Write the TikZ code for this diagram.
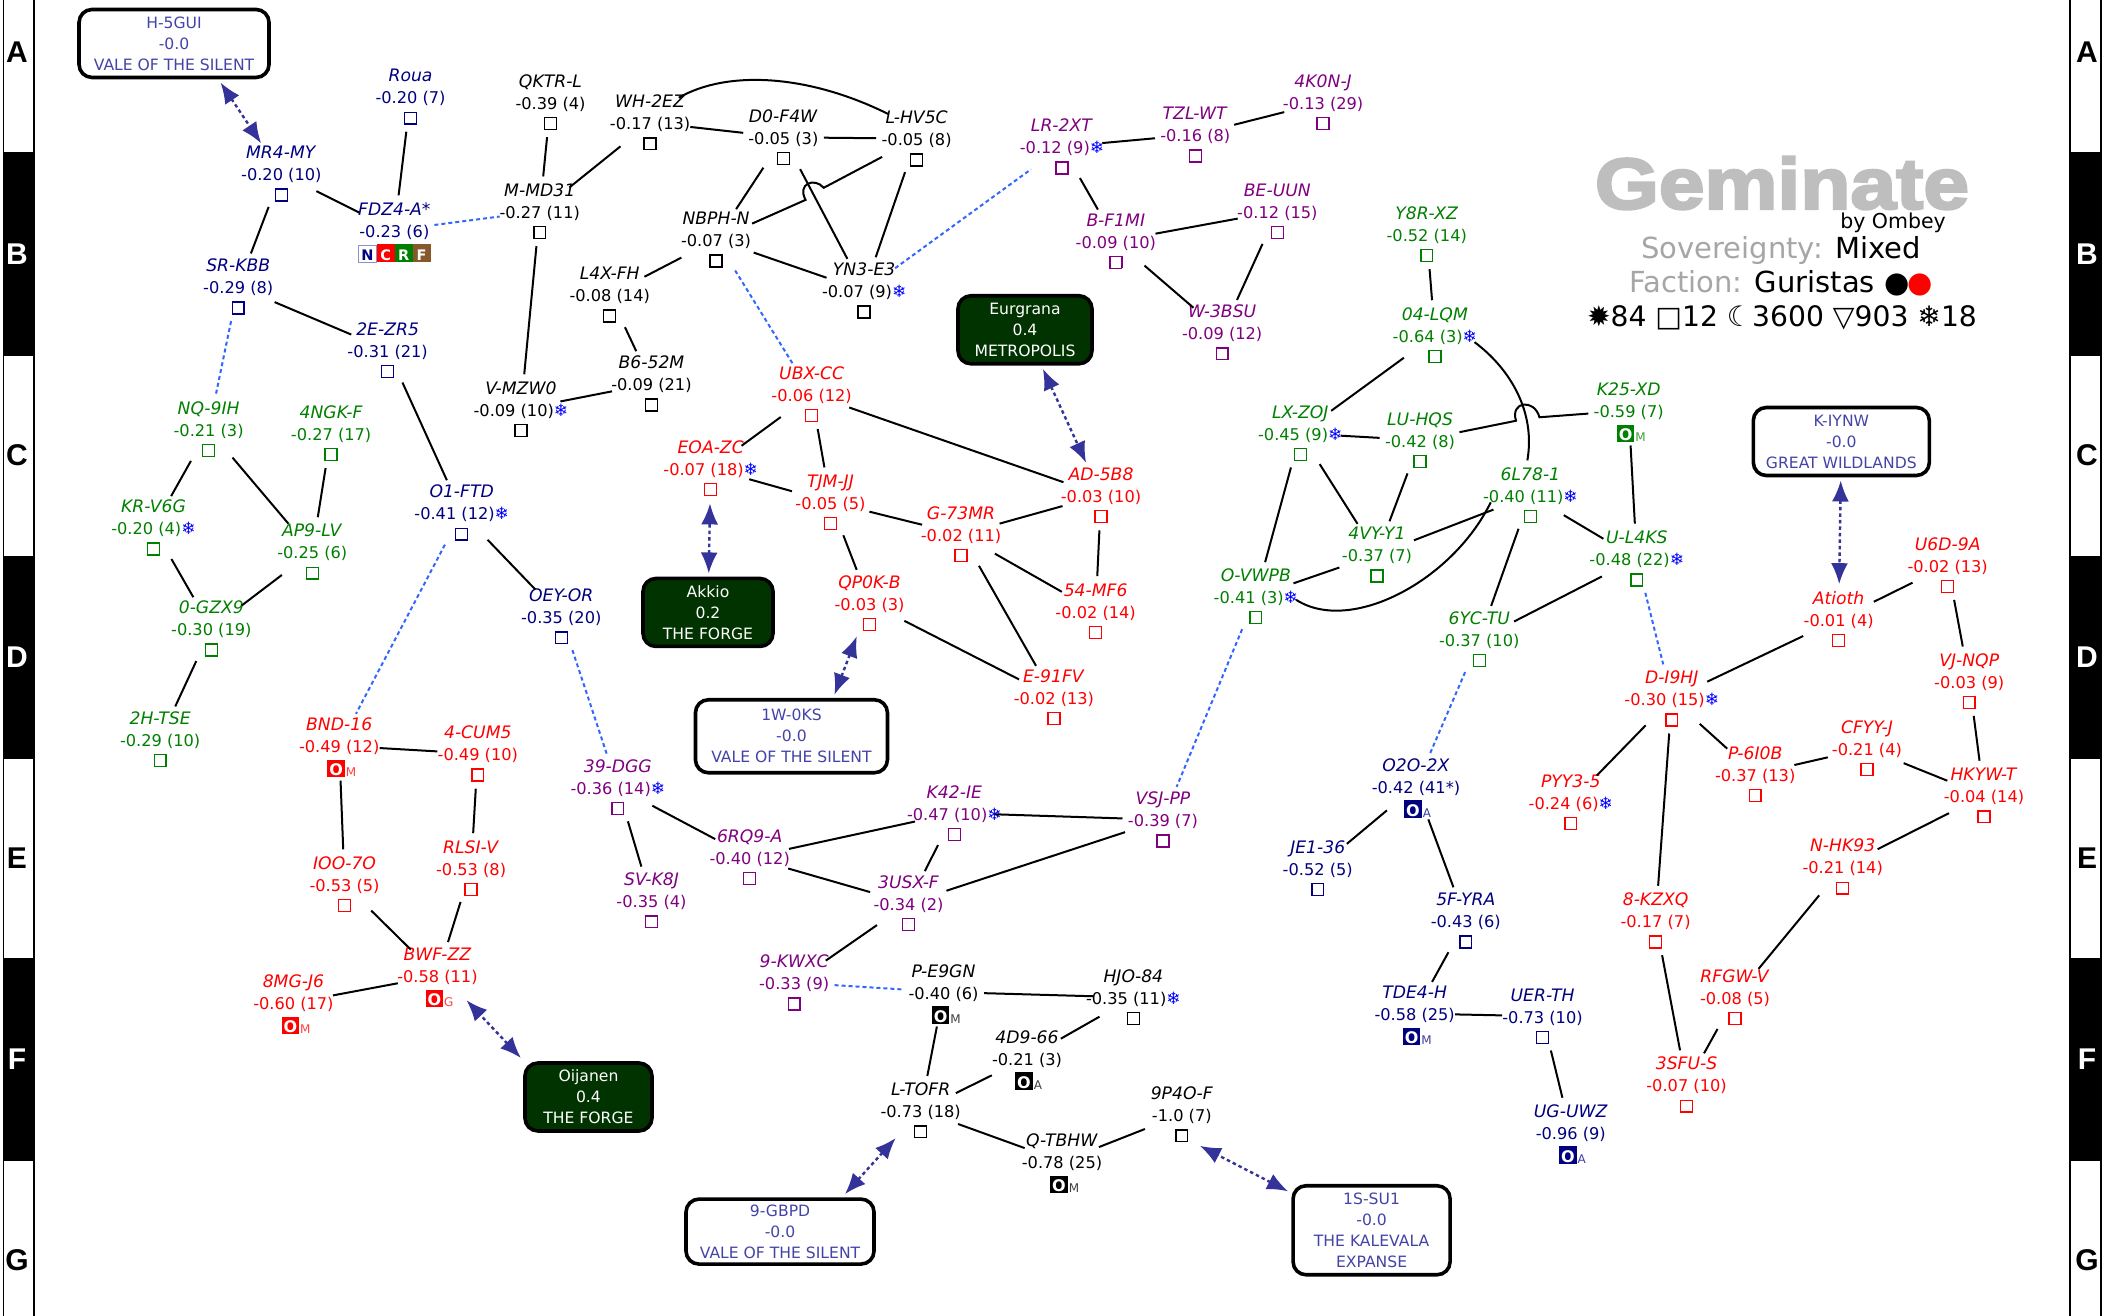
\documentclass[tikz,border=0pt]{standalone}
\usepackage{fontspec}
\usetikzlibrary{arrows.meta,shapes.geometric}
\setmainfont{DejaVu Sans}
\newfontfamily\titlef{Liberation Sans}[BoldFeatures={FakeBold=3.5,FakeStretch=1.14}]
\newfontfamily\bandf{Liberation Sans}
\definecolor{nav}{HTML}{000080}
\definecolor{pur}{HTML}{800080}
\definecolor{grn}{HTML}{008000}
\definecolor{rd}{HTML}{FF0000}
\definecolor{blk}{HTML}{000000}
\definecolor{regtxt}{HTML}{4444A8}
\definecolor{arrowc}{HTML}{333399}
\definecolor{jumpc}{HTML}{3366FF}
\definecolor{forest}{HTML}{003300}
\definecolor{titleg}{HTML}{BEBEBE}
\definecolor{subg}{HTML}{A6A6A6}
\newcommand{\ice}{\textcolor{blue}{\fontsize{17}{15}\selectfont ❄}}
\newcommand{\sq}{\raisebox{2.5pt}{\setlength\fboxsep{0pt}\setlength\fboxrule{1.4pt}\fbox{\rule{0pt}{10.5pt}\hspace{10.5pt}}}}
\newcommand{\stn}[1]{\makebox[0pt]{\hspace{-6pt}\setlength\fboxsep{0pt}\raisebox{-1pt}{\colorbox{\cc}{\makebox[17.5pt]{\rule[-1.5pt]{0pt}{17.5pt}\textcolor{white}{\fontsize{16}{16}\bfseries\selectfont O}}}}\rlap{\raisebox{-2pt}{\textcolor{\cc!75}{\fontsize{12}{12}\selectfont\hspace{1pt}#1}}}}}
\newcommand{\tagbox}[2]{\setlength\fboxsep{0pt}\colorbox{#1}{\makebox[18pt]{\rule[-2pt]{0pt}{18pt}\textcolor{white}{\fontsize{14.5}{14.5}\bfseries\selectfont #2}}}}
\newcommand{\ncrf}{\raisebox{-1pt}{\setlength\fboxsep{0pt}\setlength\fboxrule{1pt}\fcolorbox{regtxt!60}{white}{\makebox[16.5pt]{\rule[-1.5pt]{0pt}{16pt}\textcolor{nav}{\fontsize{14.5}{14.5}\bfseries\selectfont N}}}\tagbox{rd}{C}\tagbox{grn}{R}\tagbox{brown!70!black}{F}}}
\tikzset{
  sysbox/.style={ellipse,inner sep=0pt,outer sep=0pt,minimum width=81pt,minimum height=70pt},
  link/.style={line width=2pt,black},
  jump/.style={line width=2pt,jumpc,dash pattern=on 4pt off 3pt},
  gate/.style={line width=2.4pt,arrowc,dash pattern=on 3.5pt off 3pt,{Latex[length=21pt,width=17pt]}-{Latex[length=21pt,width=17pt]}},
  regbox/.style={rectangle,draw=black,line width=3.6pt,rounded corners=13pt,align=center,text=regtxt,fill=white,outer sep=5pt,inner sep=0pt,font=\fontsize{15.6}{21}\selectfont},
  regdark/.style={regbox,fill=forest,text=white},
  band/.style={font=\bandf\bfseries\fontsize{30}{30}\selectfont},
  legend/.style={font=\fontsize{29}{30}\selectfont,inner sep=0pt}
}
\newcommand{\sys}[7]{\gdef\cc{#4}\node[sysbox,text=#4] (#1) at ({#2},{#3+16}) {\smash{\makebox[0pt]{\raisebox{-7pt}{\fontsize{16.2}{22}\selectfont\begin{tabular}[c]{@{}c@{}}{\fontsize{17.2}{22}\selectfont\textit{#5}}\\#6\\\smash{#7}\end{tabular}}}}};}
\begin{document}
\begin{tikzpicture}[x=1.346pt,y=-1.346pt]
\useasboundingbox (0,0) rectangle (1568.35,977.7);
\fill[white] (0,0) rectangle (1568.35,977.7);
% side bands
\begin{scope}[x=1pt,y=-1pt]
\foreach \xa/\xb in {3.5/34,2070/2101}{
  \foreach \ya/\yb/\fl in {-5/153/white,153/355/black,355/557/white,557/758/black,758/959/white,959/1160/black,1160/1325/white}{
    \draw[black,line width=1.6pt,fill=\fl] (\xa,\ya) rectangle (\xb,\yb);
  }
}
\foreach \xc/\sd in {17/l,2087/r}{
  \foreach \ly/\tx/\cl in {52/A/black,254/B/white,455/C/black,657/D/white,858/E/black,1059/F/white,1260/G/black}{
    \node[band,text=\cl,inner sep=0pt] (band\sd\tx) at (\xc,\ly) {\tx};
  }
}
\node[font=\titlef\bfseries\fontsize{72}{72}\selectfont,text=titleg,inner sep=0pt] (title) at (1782,183) {Geminate};
\node[font=\fontsize{20.5}{22}\selectfont,inner sep=0pt] (by) at (1893,223) {by Ombey};
\node[legend] (sov) at (1781,250) {\textcolor{subg}{Sovereignty:} Mixed};
\node[legend] (fac) at (1781,283) {\textcolor{subg}{Faction:} Guristas \textcolor{black}{●}\kern-2pt\textcolor{rd}{●}};
\node[legend,font=\fontsize{28.2}{30}\selectfont] (stats) at (1782,318) {✹84 □12 ☾3600 ▽903 ❄18};
\end{scope}
% systems: navy
\sys{MRfourMY}{209}{113}{nav}{MR4-MY}{-0.20 (10)}{\sq}
\sys{Roua}{305}{56}{nav}{Roua}{-0.20 (7)}{\sq}
\sys{FDZ}{293}{155}{nav}{FDZ4-A*}{-0.23 (6)}{\ncrf}
\sys{SRKBB}{177}{197}{nav}{SR-KBB}{-0.29 (8)}{\sq}
\sys{TwoE}{288}{244}{nav}{2E-ZR5}{-0.31 (21)}{\sq}
\sys{OoneFTD}{343}{365}{nav}{O1-FTD}{-0.41 (12)\ice}{\sq}
\sys{OEY}{417}{442}{nav}{OEY-OR}{-0.35 (20)}{\sq}
\sys{OtwoO}{1052}{568}{nav}{O2O-2X}{-0.42 (41*)}{\stn{A}}
\sys{JEone}{979}{629}{nav}{JE1-36}{-0.52 (5)}{\sq}
\sys{FiveF}{1089}{668}{nav}{5F-YRA}{-0.43 (6)}{\sq}
\sys{TDE}{1051}{737}{nav}{TDE4-H}{-0.58 (25)}{\stn{M}}
\sys{UER}{1146}{739}{nav}{UER-TH}{-0.73 (10)}{\sq}
\sys{UGU}{1167}{825}{nav}{UG-UWZ}{-0.96 (9)}{\stn{A}}
% black
\sys{QKTR}{409}{60}{blk}{QKTR-L}{-0.39 (4)}{\sq}
\sys{WHtwo}{483}{75}{blk}{WH-2EZ}{-0.17 (13)}{\sq}
\sys{DzeroF}{582}{86}{blk}{D0-F4W}{-0.05 (3)}{\sq}
\sys{LHV}{681}{87}{blk}{L-HV5C}{-0.05 (8)}{\sq}
\sys{MMD}{401}{141}{blk}{M-MD31}{-0.27 (11)}{\sq}
\sys{NBPH}{532}{162}{blk}{NBPH-N}{-0.07 (3)}{\sq}
\sys{LfourX}{453}{203}{blk}{L4X-FH}{-0.08 (14)}{\sq}
\sys{YNthree}{642}{200}{blk}{YN3-E3}{-0.07 (9)\ice}{\sq}
\sys{BsixF}{484}{269}{blk}{B6-52M}{-0.09 (21)}{\sq}
\sys{VMZ}{387}{288}{blk}{V-MZW0}{-0.09 (10)\ice}{\sq}
\sys{PEnine}{701}{721}{blk}{P-E9GN}{-0.40 (6)}{\stn{M}}
\sys{HJO}{842}{725}{blk}{HJO-84}{-0.35 (11)\ice}{\sq}
\sys{FourD}{763}{770}{blk}{4D9-66}{-0.21 (3)}{\stn{A}}
\sys{LTOFR}{684}{809}{blk}{L-TOFR}{-0.73 (18)}{\sq}
\sys{QTB}{789}{847}{blk}{Q-TBHW}{-0.78 (25)}{\stn{M}}
\sys{NineP}{878}{812}{blk}{9P4O-F}{-1.0 (7)}{\sq}
% purple
\sys{LRtwo}{789}{93}{pur}{LR-2XT}{-0.12 (9)\ice}{\sq}
\sys{TZL}{888}{84}{pur}{TZL-WT}{-0.16 (8)}{\sq}
\sys{FourK}{983}{60}{pur}{4K0N-J}{-0.13 (29)}{\sq}
\sys{BFone}{829}{163}{pur}{B-F1MI}{-0.09 (10)}{\sq}
\sys{BEU}{949}{141}{pur}{BE-UUN}{-0.12 (15)}{\sq}
\sys{Wthree}{908}{231}{pur}{W-3BSU}{-0.09 (12)}{\sq}
\sys{ThirtyNine}{459}{569}{pur}{39-DGG}{-0.36 (14)\ice}{\sq}
\sys{SVK}{484}{653}{pur}{SV-K8J}{-0.35 (4)}{\sq}
\sys{SixR}{557}{621}{pur}{6RQ9-A}{-0.40 (12)}{\sq}
\sys{KfortyTwo}{709}{588}{pur}{K42-IE}{-0.47 (10)\ice}{\sq}
\sys{VSJ}{864}{593}{pur}{VSJ-PP}{-0.39 (7)}{\sq}
\sys{ThreeU}{675}{655}{pur}{3USX-F}{-0.34 (2)}{\sq}
\sys{NineK}{590}{714}{pur}{9-KWXC}{-0.33 (9)}{\sq}
% red
\sys{UBX}{603}{277}{rd}{UBX-CC}{-0.06 (12)}{\sq}
\sys{EOA}{528}{332}{rd}{EOA-ZC}{-0.07 (18)\ice}{\sq}
\sys{TJM}{617}{357}{rd}{TJM-JJ}{-0.05 (5)}{\sq}
\sys{GsevenThree}{714}{381}{rd}{G-73MR}{-0.02 (11)}{\sq}
\sys{ADfive}{818}{352}{rd}{AD-5B8}{-0.03 (10)}{\sq}
\sys{QPzero}{646}{432}{rd}{QP0K-B}{-0.03 (3)}{\sq}
\sys{FiftyFour}{814}{438}{rd}{54-MF6}{-0.02 (14)}{\sq}
\sys{EnineOne}{783}{502}{rd}{E-91FV}{-0.02 (13)}{\sq}
\sys{BND}{252}{538}{rd}{BND-16}{-0.49 (12)}{\stn{M}}
\sys{FourC}{355}{544}{rd}{4-CUM5}{-0.49 (10)}{\sq}
\sys{RLSI}{350}{629}{rd}{RLSI-V}{-0.53 (8)}{\sq}
\sys{IOO}{256}{641}{rd}{IOO-7O}{-0.53 (5)}{\sq}
\sys{BWF}{325}{709}{rd}{BWF-ZZ}{-0.58 (11)}{\stn{G}}
\sys{EightM}{218}{729}{rd}{8MG-J6}{-0.60 (17)}{\stn{M}}
\sys{Atioth}{1366}{444}{rd}{Atioth}{-0.01 (4)}{\sq}
\sys{USixD}{1447}{404}{rd}{U6D-9A}{-0.02 (13)}{\sq}
\sys{VJN}{1463}{490}{rd}{VJ-NQP}{-0.03 (9)}{\sq}
\sys{DInine}{1242}{503}{rd}{D-I9HJ}{-0.30 (15)\ice}{\sq}
\sys{PsixI}{1304}{559}{rd}{P-6I0B}{-0.37 (13)}{\sq}
\sys{CFY}{1387}{540}{rd}{CFYY-J}{-0.21 (4)}{\sq}
\sys{HKY}{1474}{575}{rd}{HKYW-T}{-0.04 (14)}{\sq}
\sys{PYY}{1167}{580}{rd}{PYY3-5}{-0.24 (6)\ice}{\sq}
\sys{NHK}{1369}{628}{rd}{N-HK93}{-0.21 (14)}{\sq}
\sys{EightK}{1230}{668}{rd}{8-KZXQ}{-0.17 (7)}{\sq}
\sys{RFG}{1289}{725}{rd}{RFGW-V}{-0.08 (5)}{\sq}
\sys{ThreeS}{1253}{790}{rd}{3SFU-S}{-0.07 (10)}{\sq}
% green
\sys{NQnine}{155}{303}{grn}{NQ-9IH}{-0.21 (3)}{\sq}
\sys{FourN}{246}{306}{grn}{4NGK-F}{-0.27 (17)}{\sq}
\sys{KRV}{114}{376}{grn}{KR-V6G}{-0.20 (4)\ice}{\sq}
\sys{APnine}{232}{394}{grn}{AP9-LV}{-0.25 (6)}{\sq}
\sys{ZeroG}{157}{451}{grn}{0-GZX9}{-0.30 (19)}{\sq}
\sys{TwoH}{119}{533}{grn}{2H-TSE}{-0.29 (10)}{\sq}
\sys{Yeight}{1060}{158}{grn}{Y8R-XZ}{-0.52 (14)}{\sq}
\sys{ZeroFour}{1066}{233}{grn}{04-LQM}{-0.64 (3)\ice}{\sq}
\sys{Ktwo}{1210}{289}{grn}{K25-XD}{-0.59 (7)}{\stn{M}}
\sys{LXZ}{966}{306}{grn}{LX-ZOJ}{-0.45 (9)\ice}{\sq}
\sys{LUH}{1055}{311}{grn}{LU-HQS}{-0.42 (8)}{\sq}
\sys{SixL}{1137}{352}{grn}{6L78-1}{-0.40 (11)\ice}{\sq}
\sys{FourV}{1023}{396}{grn}{4VY-Y1}{-0.37 (7)}{\sq}
\sys{ULfour}{1216}{399}{grn}{U-L4KS}{-0.48 (22)\ice}{\sq}
\sys{OVW}{933}{427}{grn}{O-VWPB}{-0.41 (3)\ice}{\sq}
\sys{SixY}{1099}{459}{grn}{6YC-TU}{-0.37 (10)}{\sq}
% regions
\node[regbox,minimum width=190pt,minimum height=68pt] (rHfive) at (129.3,32.3) {H-5GUI\\-0.0\\VALE OF THE SILENT};
\node[regdark,minimum width=134pt,minimum height=68pt] (rEurgrana) at (761.5,245) {Eurgrana\\0.4\\METROPOLIS};
\node[regbox,minimum width=176pt,minimum height=68pt] (rKI) at (1368,328) {K-IYNW\\-0.0\\GREAT WILDLANDS};
\node[regdark,minimum width=130pt,minimum height=68pt] (rAkkio) at (526,455) {Akkio\\0.2\\THE FORGE};
\node[regbox,minimum width=192pt,minimum height=73pt] (rOneW) at (588,547) {1W-0KS\\-0.0\\VALE OF THE SILENT};
\node[regdark,minimum width=127pt,minimum height=68pt] (rOijanen) at (437.2,815) {Oijanen\\0.4\\THE FORGE};
\node[regbox,minimum width=188pt,minimum height=65pt] (rNineG) at (579.5,915) {9-GBPD\\-0.0\\VALE OF THE SILENT};
\node[regbox,minimum width=157pt,minimum height=89pt] (rOneS) at (1019,914) {1S-SU1\\-0.0\\THE KALEVALA\\EXPANSE};
% links
\foreach \a/\b in {Roua/FDZ,MRfourMY/FDZ,MRfourMY/SRKBB,SRKBB/TwoE,TwoE/OoneFTD,OoneFTD/OEY,
 QKTR/MMD,WHtwo/MMD,MMD/VMZ,WHtwo/DzeroF,DzeroF/LHV,DzeroF/NBPH,DzeroF/YNthree,LHV/YNthree,NBPH/YNthree,NBPH/LfourX,LfourX/BsixF,VMZ/BsixF,
 UBX/EOA,UBX/TJM,UBX/ADfive,EOA/TJM,TJM/GsevenThree,TJM/QPzero,GsevenThree/ADfive,GsevenThree/FiftyFour,GsevenThree/EnineOne,ADfive/FiftyFour,QPzero/EnineOne,
 LRtwo/TZL,TZL/FourK,LRtwo/BFone,BFone/BEU,BFone/Wthree,BEU/Wthree,
 NQnine/KRV,NQnine/APnine,FourN/APnine,KRV/ZeroG,APnine/ZeroG,ZeroG/TwoH,
 Yeight/ZeroFour,ZeroFour/LXZ,LXZ/LUH,LXZ/FourV,LUH/FourV,LXZ/OVW,FourV/OVW,FourV/SixL,SixL/SixY,SixL/ULfour,Ktwo/ULfour,ULfour/SixY,
 OtwoO/JEone,OtwoO/FiveF,FiveF/TDE,TDE/UER,UER/UGU,
 BND/FourC,BND/IOO,FourC/RLSI,RLSI/BWF,IOO/BWF,BWF/EightM,
 ThirtyNine/SVK,ThirtyNine/SixR,SixR/KfortyTwo,SixR/ThreeU,KfortyTwo/ThreeU,KfortyTwo/VSJ,ThreeU/VSJ,ThreeU/NineK,
 PEnine/HJO,PEnine/LTOFR,HJO/FourD,FourD/LTOFR,LTOFR/QTB,QTB/NineP,
 USixD/Atioth,USixD/VJN,VJN/HKY,Atioth/DInine,DInine/PYY,DInine/PsixI,DInine/EightK,PsixI/CFY,CFY/HKY,HKY/NHK,NHK/RFG,RFG/ThreeS,EightK/ThreeS}
 {\draw[link] (\a) -- (\b);}
% curved links and hops
\draw[link] (WHtwo.north east) .. controls (540,52) and (600,55) .. (LHV.north west);
\coordinate (hopNa) at (598.5,148.5); \coordinate (hopNb) at (612,139.5);
\draw[link] (NBPH) -- (hopNa) .. controls (592,136.5) and (605,131.5) .. (hopNb) -- (LHV);
\coordinate (hopKa) at (1126.3,312.6); \coordinate (hopKb) at (1143.7,310);
\draw[link] (LUH) -- (hopKa) .. controls (1121.8,298) and (1140,296) .. (hopKb) -- (Ktwo);
\draw[link] (ZeroFour.-10) .. controls (1122,274) and (1141,306) .. (SixL.95);
\draw[link] (SixL.190) .. controls (1079,431.5) and (1003.4,471.6) .. (OVW.-5);
% jumps
\foreach \a/\b in {FDZ/MMD,SRKBB/NQnine,OoneFTD/BND,OEY/ThirtyNine,NBPH/UBX,YNthree/LRtwo,OVW/VSJ,SixY/OtwoO,ULfour/DInine,NineK/PEnine}
 {\draw[jump] (\a) -- (\b);}
% region gates
\foreach \a/\b in {rHfive.-40/MRfourMY,rEurgrana/ADfive,rKI/Atioth,rAkkio/EOA,rOneW.44/QPzero,rOijanen.150/BWF.-40,rNineG.30/LTOFR,rOneS.155/NineP.-60}
 {\draw[gate] (\a) -- (\b);}
\end{tikzpicture}
\end{document}
